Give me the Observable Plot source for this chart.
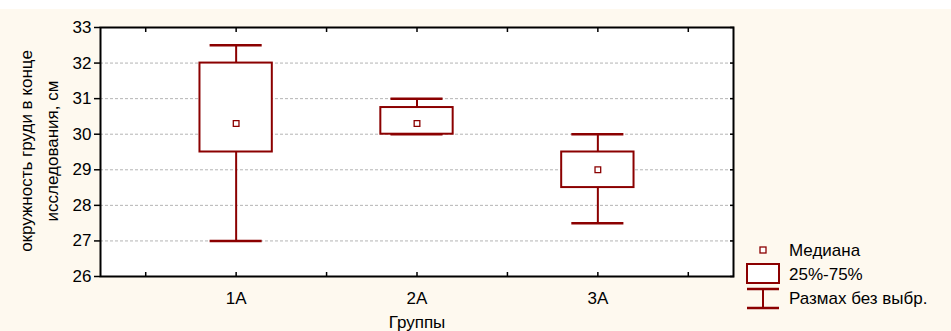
<!DOCTYPE html>
<html><head><meta charset="utf-8">
<script src="https://cdn.jsdelivr.net/npm/d3@7"></script>
<script src="https://cdn.jsdelivr.net/npm/@observablehq/plot@0.6"></script>
<style>
html,body{margin:0;padding:0;background:#fff;}
#wrap{position:absolute;left:0;top:9px;width:951px;height:322px;background:#fef9ef;font-family:Arial,"Liberation Sans",sans-serif;overflow:hidden;}
#wrap svg{position:absolute;left:0;top:0;}
.lbl{position:absolute;font-size:17px;color:#000;white-space:nowrap;}
</style></head><body>
<div id="wrap"></div>
<script>
const groups = ["1A", "2A", "3A"];
const whiskerLow = [27, 30, 27.5];
const q1 = [29.5, 30, 28.5];
const median = [30.3, 30.3, 29.0];
const q3 = [32, 30.75, 29.5];
const whiskerHigh = [32.5, 31, 30];
const yTicks = [26, 27, 28, 29, 30, 31, 32, 33];
const gridValues = [27, 28, 29, 30, 31, 32];
const xTicks = [0.5, 1, 1.5, 2, 2.5, 3, 3.5];
const legendLabels = ["Медиана", "25%-75%", "Размах без выбр."];
const yLabelLines = ["окружность груди в конце", "исследования, см"];
const xLabel = "Группы";

const data = groups.map((g, i) => ({g, pos: i + 1, lo: whiskerLow[i], q1: q1[i], med: median[i], q3: q3[i], hi: whiskerHigh[i]}));
const red = "#8b0000";
const boxHalf = 0.2, capHalf = 0.144;
const font = "Arial, 'Liberation Sans', sans-serif";

const plot = Plot.plot({
  width: 951, height: 322,
  marginLeft: 100, marginRight: 218, marginTop: 18, marginBottom: 55,
  style: {background: "transparent", fontFamily: font, fontSize: "17px", color: "#000"},
  x: {type: "linear", domain: [0.25, 3.75]},
  y: {domain: [26, 33]},
  marks: [
    Plot.frame({fill: "white", stroke: null}),
    Plot.ruleY(gridValues, {stroke: "#b4b4b4", strokeDasharray: "3,2", strokeWidth: 1}),
    Plot.ruleX(data, {x: "pos", y1: "q3", y2: "hi", stroke: red, strokeWidth: 2}),
    Plot.ruleX(data, {x: "pos", y1: "lo", y2: "q1", stroke: red, strokeWidth: 2}),
    Plot.ruleY(data, {y: "hi", x1: d => d.pos - capHalf, x2: d => d.pos + capHalf, stroke: red, strokeWidth: 2.5}),
    Plot.ruleY(data, {y: "lo", x1: d => d.pos - capHalf, x2: d => d.pos + capHalf, stroke: red, strokeWidth: 2.5}),
    Plot.rect(data, {x1: d => d.pos - boxHalf, x2: d => d.pos + boxHalf, y1: "q1", y2: "q3", fill: "white", stroke: red, strokeWidth: 2}),
    Plot.dot(data, {x: "pos", y: "med", symbol: "square", r: 3.2, fill: "white", stroke: red, strokeWidth: 1.3}),
    Plot.axisY({anchor: "left", ticks: yTicks, tickSize: 6, tickPadding: 3, tickFormat: d => String(d), label: null, fontSize: 17, stroke: "black", strokeWidth: 1.5}),
    Plot.axisY({anchor: "right", ticks: yTicks, tickSize: -4, tickFormat: () => "", label: null, strokeWidth: 1.5}),
    Plot.axisX({anchor: "top", ticks: xTicks, tickSize: -4, tickFormat: () => "", label: null, strokeWidth: 1.5}),
    Plot.axisX({anchor: "bottom", ticks: xTicks, tickSize: -4, tickFormat: () => "", label: null, strokeWidth: 1.5}),
    Plot.axisX({anchor: "bottom", ticks: [1, 2, 3], tickSize: 0, tickPadding: 15, tickFormat: d => groups[d - 1], label: null, fontSize: 17}),
    Plot.frame({stroke: "black", strokeWidth: 2})
  ]
});
const wrap = document.getElementById("wrap");
wrap.appendChild(plot);

// y label
const yl = document.createElement("div");
yl.className = "lbl";
yl.style.cssText = "left:40px;top:142px;transform:translate(-50%,-50%) rotate(-90deg);text-align:center;line-height:26px;font-size:17px;";
yl.innerHTML = yLabelLines.join("<br>");
wrap.appendChild(yl);

// x label
const xl = document.createElement("div");
xl.className = "lbl";
xl.style.cssText = "left:417px;top:314px;transform:translate(-50%,-50%);";
xl.textContent = xLabel;
wrap.appendChild(xl);

// legend
const lg = d3.select(wrap).append("svg").attr("width", 951).attr("height", 322).style("pointer-events", "none");
const rows = [241, 265, 289];
lg.append("rect").attr("x", 760).attr("y", 238).attr("width", 6).attr("height", 6).attr("fill", "white").attr("stroke", red).attr("stroke-width", 1.3);
lg.append("rect").attr("x", 747).attr("y", 255).attr("width", 32).attr("height", 19).attr("fill", "white").attr("stroke", red).attr("stroke-width", 2);
lg.append("line").attr("x1", 747).attr("x2", 779).attr("y1", 280).attr("y2", 280).attr("stroke", red).attr("stroke-width", 2.5);
lg.append("line").attr("x1", 747).attr("x2", 779).attr("y1", 299).attr("y2", 299).attr("stroke", red).attr("stroke-width", 2.5);
lg.append("line").attr("x1", 763).attr("x2", 763).attr("y1", 280).attr("y2", 299).attr("stroke", red).attr("stroke-width", 2);
lg.selectAll("text.l").data(legendLabels).join("text").attr("class", "l")
  .attr("x", 789).attr("y", (d, i) => rows[i]).attr("dy", "0.35em")
  .attr("font-family", font).attr("font-size", 17).attr("fill", "#000").text(d => d);
</script>
</body></html>
